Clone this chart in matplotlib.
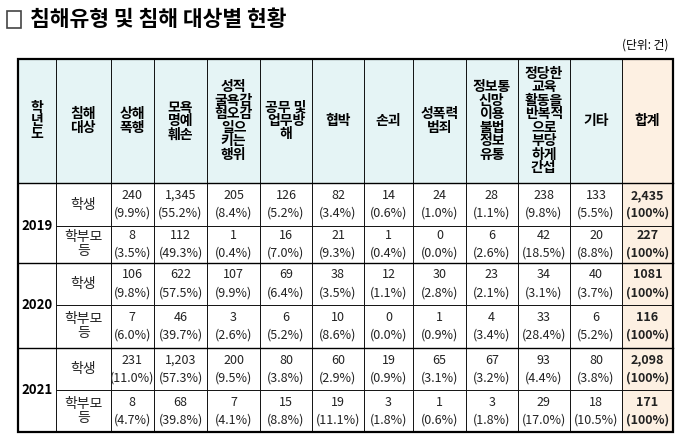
import matplotlib
matplotlib.use('Agg')
import matplotlib.pyplot as plt
from matplotlib.patches import Rectangle

plt.rcParams['font.family'] = ['Noto Sans CJK JP', 'Noto Sans CJK KR', 'Noto Sans CJK SC', 'DejaVu Sans']

title = '침해유형 및 침해 대상별 현황'
unit = '(단위: 건)'
headers = ['학\n년\n도', '침해\n대상', '상해\n폭행', '모욕\n명예\n훼손',
           '성적\n굴욕감\n혐오감\n일으\n키는\n행위', '공무 및\n업무방\n해', '협박', '손괴',
           '성폭력\n범죄', '정보통\n신망\n이용\n불법\n정보\n유통',
           '정당한\n교육\n활동을\n반복적\n으로\n부당\n하게\n간섭', '기타', '합계']
years = ['2019', '2020', '2021']
targets = ['학생', '학부모\n등']
counts = [
    [240, 1345, 205, 126, 82, 14, 24, 28, 238, 133, 2435],
    [8, 112, 1, 16, 21, 1, 0, 6, 42, 20, 227],
    [106, 622, 107, 69, 38, 12, 30, 23, 34, 40, 1081],
    [7, 46, 3, 6, 10, 0, 1, 4, 33, 6, 116],
    [231, 1203, 200, 80, 60, 19, 65, 67, 93, 80, 2098],
    [8, 68, 7, 15, 19, 3, 1, 3, 29, 18, 171],
]
shares = [
    [9.9, 55.2, 8.4, 5.2, 3.4, 0.6, 1.0, 1.1, 9.8, 5.5, 100],
    [3.5, 49.3, 0.4, 7.0, 9.3, 0.4, 0.0, 2.6, 18.5, 8.8, 100],
    [9.8, 57.5, 9.9, 6.4, 3.5, 1.1, 2.8, 2.1, 3.1, 3.7, 100],
    [6.0, 39.7, 2.6, 5.2, 8.6, 0.0, 0.9, 3.4, 28.4, 5.2, 100],
    [11.0, 57.3, 9.5, 3.8, 2.9, 0.9, 3.1, 3.2, 4.4, 3.8, 100],
    [4.7, 39.8, 4.1, 8.8, 11.1, 1.8, 0.6, 1.8, 17.0, 10.5, 100],
]
# total for 2020 students is printed without a thousands separator in the source
no_comma = {(2, 10)}

xb = [17.5, 56, 110.5, 154, 207, 260, 312, 364, 413, 466, 517.5, 570, 622, 673]
yb = [59, 183, 226, 263, 305, 348, 390, 432]

fig = plt.figure(figsize=(6.8, 4.41), dpi=100)
ax = fig.add_axes([0, 0, 1, 1])
ax.set_xlim(0, 680)
ax.set_ylim(441, 0)
ax.axis('off')

head_bg = '#e5f4f5'
total_bg = '#fdf0e2'

ax.add_patch(Rectangle((7, 11), 14, 17, fill=False, lw=1.2, ec='#444444'))
ax.text(30, 20, title, fontsize=15.5, fontweight='bold', va='center', ha='left')
ax.text(668, 45, unit, fontsize=8.5, va='center', ha='right')

# header row
for i, h in enumerate(headers):
    bg = total_bg if i == len(headers) - 1 else head_bg
    ax.add_patch(Rectangle((xb[i], yb[0]), xb[i + 1] - xb[i], yb[1] - yb[0],
                           fc=bg, ec='black', lw=0.6))
    ax.text((xb[i] + xb[i + 1]) / 2, (yb[0] + yb[1]) / 2, h, fontsize=10,
            fontweight='bold', ha='center', va='center', linespacing=0.95)

# body
for r in range(len(counts)):
    y0, y1 = yb[r + 1], yb[r + 2]
    ym = (y0 + y1) / 2
    if r % 2 == 0:
        ax.add_patch(Rectangle((xb[0], y0), xb[1] - xb[0], yb[r + 3] - y0,
                               fc='white', ec='black', lw=0.6))
        ax.text((xb[0] + xb[1]) / 2, yb[r + 2], years[r // 2], fontsize=9.5,
                fontweight='bold', ha='center', va='center')
    ax.add_patch(Rectangle((xb[1], y0), xb[2] - xb[1], y1 - y0, fc='white', ec='black', lw=0.6))
    ax.text((xb[1] + xb[2]) / 2, ym, targets[r % 2], fontsize=10, ha='center',
            va='center', linespacing=1.0, color='#222222')
    for c in range(len(counts[r])):
        last = c == len(counts[r]) - 1
        ax.add_patch(Rectangle((xb[c + 2], y0), xb[c + 3] - xb[c + 2], y1 - y0,
                               fc=total_bg if last else 'white', ec='black', lw=0.6))
        v = counts[r][c]
        s = str(v) if (r, c) in no_comma else f'{v:,}'
        p = '(100%)' if last else f'({shares[r][c]:.1f}%)'
        xm = (xb[c + 2] + xb[c + 3]) / 2
        w = 'bold' if last else 'normal'
        ax.text(xm, ym - 9, s, fontsize=9, ha='center', va='center', fontweight=w,
                color='#222222')
        ax.text(xm, ym + 9, p, fontsize=9, ha='center', va='center', fontweight=w,
                color='#222222')

# thick outer border
ax.add_patch(Rectangle((xb[0], yb[0]), xb[-1] - xb[0], yb[-1] - yb[0],
                       fill=False, ec='black', lw=1.6))
for y in (yb[1], yb[3], yb[5]):
    ax.plot([xb[0], xb[-1]], [y, y], color='black', lw=1.0)

fig.savefig('out.png', dpi=100)
